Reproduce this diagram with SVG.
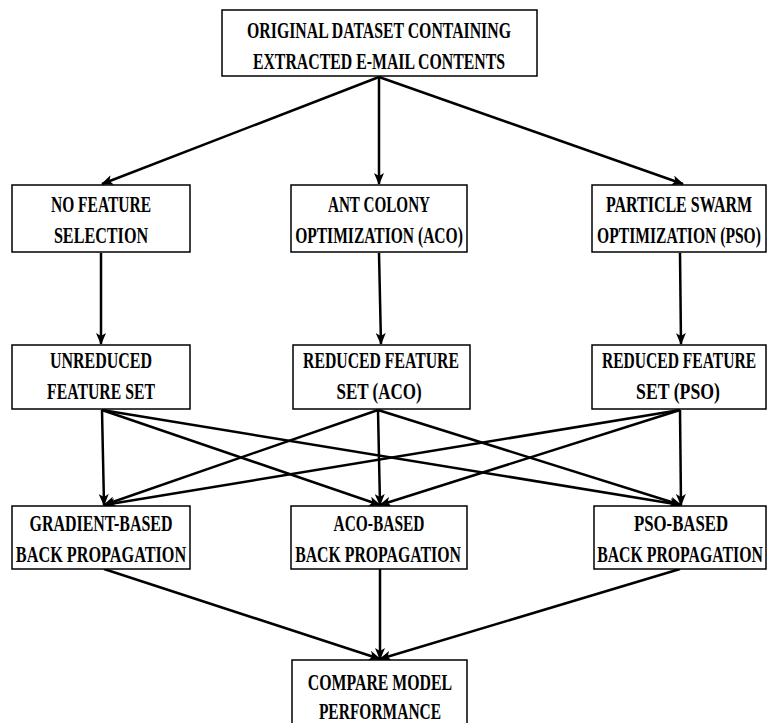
<svg xmlns="http://www.w3.org/2000/svg" width="767" height="723" viewBox="0 0 767 723">
<defs>
<marker id="ah" viewBox="0 0 12 10" refX="11" refY="5" markerWidth="12" markerHeight="10" markerUnits="userSpaceOnUse" orient="auto">
<path d="M0,0 L12,5 L0,10 L3,5 Z" fill="#000"/>
</marker>
</defs>
<style>
.box{fill:#fff;stroke:#000;stroke-width:1.5}
.t{font-family:"Liberation Serif","Times New Roman",serif;font-weight:bold;font-size:24px;fill:#000;text-anchor:middle}
.c line{stroke:#000;stroke-width:2.5;marker-end:url(#ah)}
</style>
<rect width="767" height="723" fill="#fff"/>
<g class="c" id="connectors">
<line x1="379" y1="77" x2="102" y2="184"/>
<line x1="379" y1="77" x2="379" y2="184"/>
<line x1="379" y1="77" x2="683" y2="184"/>
<line x1="101" y1="253" x2="101" y2="344"/>
<line x1="379" y1="253" x2="381" y2="344"/>
<line x1="680" y1="253" x2="681" y2="344"/>
<line x1="102" y1="410" x2="104" y2="505"/>
<line x1="102" y1="410" x2="380" y2="505"/>
<line x1="102" y1="410" x2="681" y2="505"/>
<line x1="378" y1="410" x2="104" y2="505"/>
<line x1="378" y1="410" x2="380" y2="505"/>
<line x1="378" y1="410" x2="681" y2="505"/>
<line x1="680" y1="410" x2="104" y2="505"/>
<line x1="680" y1="410" x2="380" y2="505"/>
<line x1="680" y1="410" x2="681" y2="505"/>
<line x1="104" y1="569" x2="380" y2="659"/>
<line x1="380" y1="569" x2="380" y2="659"/>
<line x1="680" y1="569" x2="380" y2="659"/>
</g>
<g id="n-original"><rect class="box" x="222" y="10" width="315" height="66"/>
<text class="t" transform="translate(379,38) scale(0.65,1)" textLength="406" lengthAdjust="spacingAndGlyphs">ORIGINAL DATASET CONTAINING</text>
<text class="t" transform="translate(379,69) scale(0.65,1)" textLength="388" lengthAdjust="spacingAndGlyphs">EXTRACTED E-MAIL CONTENTS</text></g>
<g id="n-nofs"><rect class="box" x="12" y="185" width="178" height="67"/>
<text class="t" transform="translate(101,212) scale(0.65,1)" textLength="154" lengthAdjust="spacingAndGlyphs">NO FEATURE</text>
<text class="t" transform="translate(101,243) scale(0.65,1)" textLength="145" lengthAdjust="spacingAndGlyphs">SELECTION</text></g>
<g id="n-aco"><rect class="box" x="291" y="185" width="176" height="67"/>
<text class="t" transform="translate(379,212) scale(0.65,1)" textLength="157" lengthAdjust="spacingAndGlyphs">ANT COLONY</text>
<text class="t" transform="translate(379,243) scale(0.65,1)" textLength="258" lengthAdjust="spacingAndGlyphs">OPTIMIZATION (ACO)</text></g>
<g id="n-pso"><rect class="box" x="592" y="185" width="174" height="67"/>
<text class="t" transform="translate(679,212) scale(0.65,1)" textLength="225" lengthAdjust="spacingAndGlyphs">PARTICLE SWARM</text>
<text class="t" transform="translate(679,243) scale(0.65,1)" textLength="252" lengthAdjust="spacingAndGlyphs">OPTIMIZATION (PSO)</text></g>
<g id="n-unreduced"><rect class="box" x="12" y="345" width="178" height="64"/>
<text class="t" transform="translate(101,368) scale(0.65,1)" textLength="157" lengthAdjust="spacingAndGlyphs">UNREDUCED</text>
<text class="t" transform="translate(101,399) scale(0.65,1)" textLength="166" lengthAdjust="spacingAndGlyphs">FEATURE SET</text></g>
<g id="n-redaco"><rect class="box" x="293" y="345" width="177" height="64"/>
<text class="t" transform="translate(381,368) scale(0.65,1)" textLength="240" lengthAdjust="spacingAndGlyphs">REDUCED FEATURE</text>
<text class="t" transform="translate(379,399) scale(0.65,1)" textLength="131" lengthAdjust="spacingAndGlyphs">SET (ACO)</text></g>
<g id="n-redpso"><rect class="box" x="592" y="345" width="174" height="64"/>
<text class="t" transform="translate(679,368) scale(0.65,1)" textLength="237" lengthAdjust="spacingAndGlyphs">REDUCED FEATURE</text>
<text class="t" transform="translate(678,399) scale(0.65,1)" textLength="129" lengthAdjust="spacingAndGlyphs">SET (PSO)</text></g>
<g id="n-gbp"><rect class="box" x="12" y="506" width="178" height="63"/>
<text class="t" transform="translate(101,531) scale(0.65,1)" textLength="220" lengthAdjust="spacingAndGlyphs">GRADIENT-BASED</text>
<text class="t" transform="translate(101,562) scale(0.65,1)" textLength="262" lengthAdjust="spacingAndGlyphs">BACK PROPAGATION</text></g>
<g id="n-acobp"><rect class="box" x="291" y="506" width="176" height="63"/>
<text class="t" transform="translate(379,531) scale(0.65,1)" textLength="140" lengthAdjust="spacingAndGlyphs">ACO-BASED</text>
<text class="t" transform="translate(378,562) scale(0.65,1)" textLength="255" lengthAdjust="spacingAndGlyphs">BACK PROPAGATION</text></g>
<g id="n-psobp"><rect class="box" x="594" y="506" width="172" height="63"/>
<text class="t" transform="translate(681,531) scale(0.65,1)" textLength="145" lengthAdjust="spacingAndGlyphs">PSO-BASED</text>
<text class="t" transform="translate(680,562) scale(0.65,1)" textLength="255" lengthAdjust="spacingAndGlyphs">BACK PROPAGATION</text></g>
<g id="n-compare"><rect class="box" x="292" y="660" width="175" height="70"/>
<text class="t" transform="translate(380,690) scale(0.65,1)" textLength="222" lengthAdjust="spacingAndGlyphs">COMPARE MODEL</text>
<text class="t" transform="translate(380,719) scale(0.65,1)" textLength="188" lengthAdjust="spacingAndGlyphs">PERFORMANCE</text></g>
</svg>
